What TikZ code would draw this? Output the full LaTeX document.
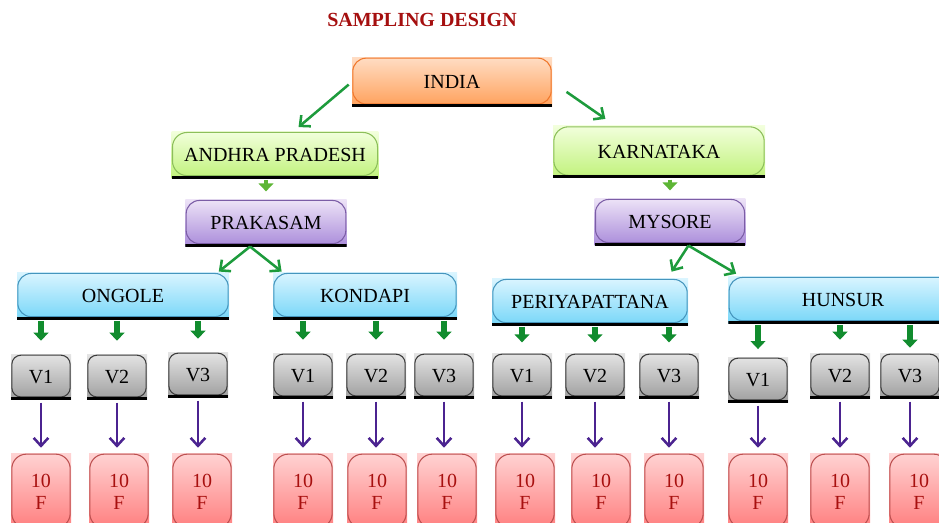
\documentclass[tikz,border=0pt]{standalone}
\usepackage{fontspec}
\setmainfont{Liberation Serif}
\usetikzlibrary{positioning, shapes, arrows.meta}

\definecolor{titlered}{HTML}{A50F0F}
\definecolor{orangeTop}{HTML}{FFDDC4}
\definecolor{orangeBot}{HTML}{FFA05A}
\definecolor{orangeLine}{HTML}{F0782D}
\definecolor{greenTop}{HTML}{F2FFDC}
\definecolor{greenBot}{HTML}{C0F27A}
\definecolor{greenLine}{HTML}{8CBF5A}
\definecolor{purpleTop}{HTML}{EDE3F7}
\definecolor{purpleBot}{HTML}{A98BDA}
\definecolor{purpleLine}{HTML}{7B5DA6}
\definecolor{blueTop}{HTML}{DAF5FF}
\definecolor{blueBot}{HTML}{76D6F8}
\definecolor{blueLine}{HTML}{4595BD}
\definecolor{grayTop}{HTML}{E4E4E4}
\definecolor{grayBot}{HTML}{9E9E9E}
\definecolor{grayLine}{HTML}{3C3C3C}
\definecolor{redTop}{HTML}{FFD3D3}
\definecolor{redBot}{HTML}{FF7C7C}
\definecolor{redLine}{HTML}{BC4F4F}
\definecolor{farmText}{HTML}{A8100F}
\definecolor{branchGreen}{HTML}{1D9B3C}
\definecolor{blockGreen}{HTML}{118C2E}
\definecolor{lightBlock}{HTML}{5DB535}
\definecolor{farmPurple}{HTML}{4B2390}

\tikzset{
  box/.style n args={4}{rectangle, inner sep=0pt, top color=#1, bottom color=#2,
    font=\fontsize{15}{16}\selectfont,
    path picture={
      \draw[#3, line width=0.8pt, rounded corners=#4]
        ([shift={(0.6pt,2pt)}]path picture bounding box.south west) rectangle
        ([shift={(-0.6pt,-0.6pt)}]path picture bounding box.north east);
      \draw[black, line width=4pt] (path picture bounding box.south west) -- (path picture bounding box.south east);
    }},
  countrybox/.style={box={orangeTop}{orangeBot}{orangeLine}{10pt}, minimum width=150pt, minimum height=37pt},
  statebox/.style={box={greenTop}{greenBot}{greenLine}{11pt}},
  districtbox/.style={box={purpleTop}{purpleBot}{purpleLine}{10pt}, minimum height=35pt},
  talukbox/.style={box={blueTop}{blueBot}{blueLine}{10pt}, minimum height=35pt},
  villagebox/.style={box={grayTop}{grayBot}{grayLine}{7pt}, minimum width=45pt, minimum height=34pt},
  farmbox/.style={box={redTop}{redBot}{redLine}{11pt}, minimum width=45pt, minimum height=58pt,
    align=center, text=farmText},
}

\begin{document}
\begin{tikzpicture}[x=0.75pt, y=-0.75pt,
  branch/.style={-{Straight Barb[length=6pt,width=11pt]}, line width=1.9pt, draw=branchGreen},
  blockarrow/.style={-{Triangle[length=6pt,width=11pt]}, line width=4pt, draw=blockGreen,
    shorten <=1pt, shorten >=10pt},
  farmarrow/.style={-{Straight Barb[length=6pt,width=11pt]}, line width=1.9pt, draw=farmPurple,
    shorten <=2pt, shorten >=4pt}]
  \useasboundingbox (0,0) rectangle (939,523);

  % Title
  \node[font=\fontsize{15}{16}\selectfont\bfseries, text=titlered] (title) at (422,20) {SAMPLING DESIGN};

  % Country, states, districts
  \node[countrybox] (india) at (452,82) {INDIA};
  \node[statebox, minimum width=155pt, minimum height=35pt] (ap) at (275,155) {ANDHRA PRADESH};
  \node[statebox, minimum width=159pt, minimum height=39pt] (kar) at (659,152) {KARNATAKA};
  \node[districtbox, minimum width=121pt] (pk) at (266,223) {PRAKASAM};
  \node[districtbox, minimum width=113pt] (my) at (670,222) {MYSORE};

  % Taluks
  \node[talukbox, minimum width=159pt] (og) at (123,296) {ONGOLE};
  \node[talukbox, minimum width=138pt] (kd) at (365,296) {KONDAPI};
  \node[talukbox, minimum width=147pt] (pe) at (590,302) {PERIYAPATTANA};
  \node[talukbox, minimum width=172pt] (hu) at (843,300) {HUNSUR};

  % Villages
  \node[villagebox] (o1) at (41,377) {V1};
  \node[villagebox] (o2) at (117,377) {V2};
  \node[villagebox] (o3) at (198,375) {V3};
  \node[villagebox] (k1) at (303,376) {V1};
  \node[villagebox] (k2) at (376,376) {V2};
  \node[villagebox] (k3) at (444,376) {V3};
  \node[villagebox] (p1) at (522,376) {V1};
  \node[villagebox] (p2) at (595,376) {V2};
  \node[villagebox] (p3) at (669,376) {V3};
  \node[villagebox] (h1) at (758,380) {V1};
  \node[villagebox] (h2) at (840,376) {V2};
  \node[villagebox] (h3) at (910,376) {V3};

  % Farms
  \node[farmbox] (fo1) at (41,492) {10\\F};
  \node[farmbox] (fo2) at (119,492) {10\\F};
  \node[farmbox] (fo3) at (202,492) {10\\F};
  \node[farmbox] (fk1) at (303,492) {10\\F};
  \node[farmbox] (fk2) at (377,492) {10\\F};
  \node[farmbox] (fk3) at (447,492) {10\\F};
  \node[farmbox] (fp1) at (525,492) {10\\F};
  \node[farmbox] (fp2) at (601,492) {10\\F};
  \node[farmbox] (fp3) at (674,492) {10\\F};
  \node[farmbox] (fh1) at (758,492) {10\\F};
  \node[farmbox] (fh2) at (840,492) {10\\F};
  \node[farmbox] (fh3) at (919,492) {10\\F};

  % Branches
  \path (india.west) edge[branch, shorten <=3pt, shorten >=5pt] (ap.52);
  \path (india.east) edge[branch, shorten <=13pt, shorten >=9pt] (kar.149);
  \path (ap.south -| pk.north) edge[blockarrow, draw=lightBlock, line width=3pt, shorten >=6pt] (pk.north);
  \path (kar.south -| my.north) edge[blockarrow, draw=lightBlock, line width=3pt, shorten >=6pt] (my.north);
  \path (pk.236) edge[branch, shorten >=1pt] (og.14);
  \path (pk.236) edge[branch, shorten >=1pt] (kd.164);
  \path (my.-52) edge[branch, shorten >=6pt] (pe.17);
  \path (my.-52) edge[branch, shorten >=4pt] (hu.167);

  % Taluk to village
  \path (og.south -| o1) edge[blockarrow] (o1.north);
  \path (og.south -| o2) edge[blockarrow] (o2.north);
  \path (og.south -| o3) edge[blockarrow] (o3.north);
  \path (kd.south -| k1) edge[blockarrow] (k1.north);
  \path (kd.south -| k2) edge[blockarrow] (k2.north);
  \path (kd.south -| k3) edge[blockarrow] (k3.north);
  \path (pe.south -| p1) edge[blockarrow, shorten >=8pt] (p1.north);
  \path (pe.south -| p2) edge[blockarrow, shorten >=8pt] (p2.north);
  \path (pe.south -| p3) edge[blockarrow, shorten >=8pt] (p3.north);
  \path (hu.south -| h1) edge[blockarrow, shorten >=6pt] (h1.north);
  \path (hu.south -| h2) edge[blockarrow] (h2.north);
  \path (hu.south -| h3) edge[blockarrow, shorten >=4pt] (h3.north);

  % Village to farms
  \path (o1.south) edge[farmarrow] (fo1.north -| o1.south);
  \path (o2.south) edge[farmarrow] (fo2.north -| o2.south);
  \path (o3.south) edge[farmarrow] (fo3.north -| o3.south);
  \path (k1.south) edge[farmarrow] (fk1.north -| k1.south);
  \path (k2.south) edge[farmarrow] (fk2.north -| k2.south);
  \path (k3.south) edge[farmarrow] (fk3.north -| k3.south);
  \path (p1.south) edge[farmarrow] (fp1.north -| p1.south);
  \path (p2.south) edge[farmarrow] (fp2.north -| p2.south);
  \path (p3.south) edge[farmarrow] (fp3.north -| p3.south);
  \path (h1.south) edge[farmarrow] (fh1.north -| h1.south);
  \path (h2.south) edge[farmarrow] (fh2.north -| h2.south);
  \path (h3.south) edge[farmarrow] (fh3.north -| h3.south);
\end{tikzpicture}
\end{document}
